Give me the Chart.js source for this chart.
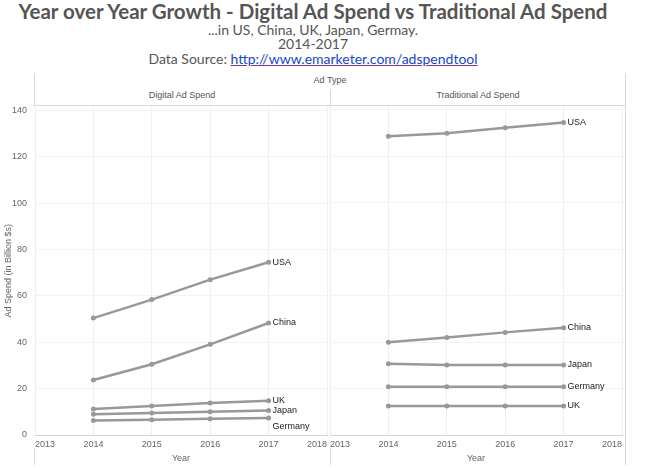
<!DOCTYPE html>
<html lang="en">
<head>
  <meta charset="UTF-8">
  <title>Year over Year Growth - Digital Ad Spend vs Traditional Ad Spend</title>
  <script src="https://cdn.jsdelivr.net/npm/chart.js"></script>
  <style>
    body { margin: 0; background: #fff; width: 660px; height: 469px; overflow: hidden; position: relative; font-family: Lato, sans-serif; }
    .t { position: absolute; left: 0; width: 626px; text-align: center; color: #555; white-space: nowrap; }
    #title { top: -1px; font-size: 20.5px; line-height: 24.6px; font-weight: 700; }
    .sub { font-size: 14px; line-height: 16.8px; }
    a { color: #1a46c8; text-decoration: underline; text-decoration-color: #7a35b0; }
    .hdr { position: absolute; font: 9px "Liberation Sans", Arial, sans-serif; color: #555; text-align: center; line-height: 11px; }
    .line { position: absolute; background: #d9d9d9; }
    canvas { position: absolute; }
  </style>
  <script>
    // values (billion $)
    const years = [2014, 2015, 2016, 2017];
    const yearTicks = [2013, 2014, 2015, 2016, 2017, 2018];
    const countries = ['USA', 'China', 'UK', 'Japan', 'Germany'];

    const digitalUSA = [50.4, 58.4, 67.0, 74.5];
    const digitalChina = [23.7, 30.5, 39.1, 48.3];
    const digitalUK = [11.2, 12.5, 13.8, 14.8];
    const digitalJapan = [8.9, 9.5, 10.0, 10.6];
    const digitalGermany = [6.2, 6.6, 7.0, 7.3];

    const tradUSA = [128.7, 130.0, 132.3, 134.6];
    const tradChina = [39.9, 42.0, 44.2, 46.2];
    const tradUK = [12.5, 12.5, 12.5, 12.5];
    const tradJapan = [30.7, 30.2, 30.2, 30.2];
    const tradGermany = [20.8, 20.8, 20.8, 20.8];

    const yMin = 0;
    const yMax = 141.7;
    const yStep = 20;
  </script>
</head>

<body>
  <div id="title" class="t">Year over Year Growth - Digital Ad Spend vs Traditional Ad Spend</div>
  <div class="t sub" style="top:22px">...in US, China, UK, Japan, Germay.</div>
  <div class="t sub" style="top:35.5px">2014-2017</div>
  <div class="t sub" style="top:51px">Data Source: <a href="http://www.emarketer.com/adspendtool">http://www.emarketer.com/adspendtool</a></div>

  <!-- facet frame -->
  <div class="line" style="left:34px;top:73px;width:1px;height:33px"></div>
  <div class="line" style="left:34px;top:448px;width:1px;height:17px"></div>
  <div class="line" style="left:625px;top:73px;width:1px;height:392px"></div>
  <div class="line" style="left:330px;top:89px;width:1px;height:17px"></div>
  <div class="line" style="left:330px;top:448px;width:1px;height:17px"></div>
  <div class="line" style="left:35px;top:105px;width:590px;height:1px"></div>

  <div class="hdr" style="left:280px;top:75px;width:100px">Ad Type</div>
  <div class="hdr" style="left:132px;top:90px;width:100px">Digital Ad Spend</div>
  <div class="hdr" style="left:428px;top:90px;width:100px">Traditional Ad Spend</div>

  <canvas id="digitalChart" width="331" height="376" style="left:0;top:93px"></canvas>
  <canvas id="tradChart" width="326" height="376" style="left:300px;top:93px"></canvas>

  <script>
    const tickFont = { family: '"Liberation Sans", Arial, sans-serif', size: 9 };
    const lineGray = '#999';

    // draws the country name at the last point of every line
    const endLabels = {
      id: 'endLabels',
      afterDatasetsDraw(chart, args, opts) {
        const ctx = chart.ctx;
        ctx.save();
        ctx.font = '9px "Liberation Sans", Arial, sans-serif';
        ctx.fillStyle = '#222';
        ctx.textBaseline = 'middle';
        chart.data.datasets.forEach((ds, i) => {
          const pts = chart.getDatasetMeta(i).data;
          const p = pts[pts.length - 1];
          const dy = (opts.nudge && opts.nudge[ds.label]) || 0;
          ctx.fillText(ds.label, p.x + 4, p.y + dy);
        });
        ctx.restore();
      }
    };

    function makeDatasets(series) {
      return series.map((vals, i) => ({
        label: countries[i],
        data: years.map((yr, j) => ({ x: yr, y: vals[j] })),
        borderColor: lineGray,
        backgroundColor: lineGray,
        borderWidth: 2.5,
        pointRadius: 2.5,
        pointBorderWidth: 0,
        tension: 0
      }));
    }

    function makeOptions(showY, pad, nudge) {
      return {
        responsive: false,
        animation: false,
        layout: { padding: pad },
        plugins: {
          legend: { display: false },
          tooltip: { enabled: false },
          endLabels: { nudge: nudge }
        },
        scales: {
          x: {
            type: 'linear',
            min: yearTicks[0],
            max: yearTicks[yearTicks.length - 1],
            afterBuildTicks: s => { s.ticks = yearTicks.map(v => ({ value: v })); },
            afterFit: s => { s.height = 34; },
            border: { display: true, color: '#d4d4d4' },
            grid: { color: '#efefef', tickLength: 4, tickColor: 'rgba(0,0,0,0)' },
            ticks: { align: 'inner', autoSkip: false, padding: 0, color: '#666', font: tickFont, callback: v => String(v) },
            title: { display: true, text: 'Year', color: '#666', font: tickFont, padding: { top: 0, bottom: 5 } }
          },
          y: {
            min: yMin,
            max: yMax,
            afterFit: s => { s.width = showY ? 35 : 0; },
            border: { display: false },
            grid: { color: '#f3f3f3', drawTicks: false },
            ticks: { display: showY, stepSize: yStep, includeBounds: false, padding: 8, color: '#666', font: tickFont },
            title: { display: showY, text: 'Ad Spend (in Billion $s)', color: '#666', font: tickFont, padding: { top: 3, bottom: 0 } }
          }
        }
      };
    }

    new Chart(document.getElementById('digitalChart'), {
      type: 'line',
      data: { datasets: makeDatasets([digitalUSA, digitalChina, digitalUK, digitalJapan, digitalGermany]) },
      options: makeOptions(true, { top: 13, right: 0 }, { Germany: 8 }),
      plugins: [endLabels]
    });

    new Chart(document.getElementById('tradChart'), {
      type: 'line',
      data: { datasets: makeDatasets([tradUSA, tradChina, tradUK, tradJapan, tradGermany]) },
      options: makeOptions(false, { left: 30, top: 13, right: 0 }, {}),
      plugins: [endLabels]
    });
  </script>
</body>
</html>
